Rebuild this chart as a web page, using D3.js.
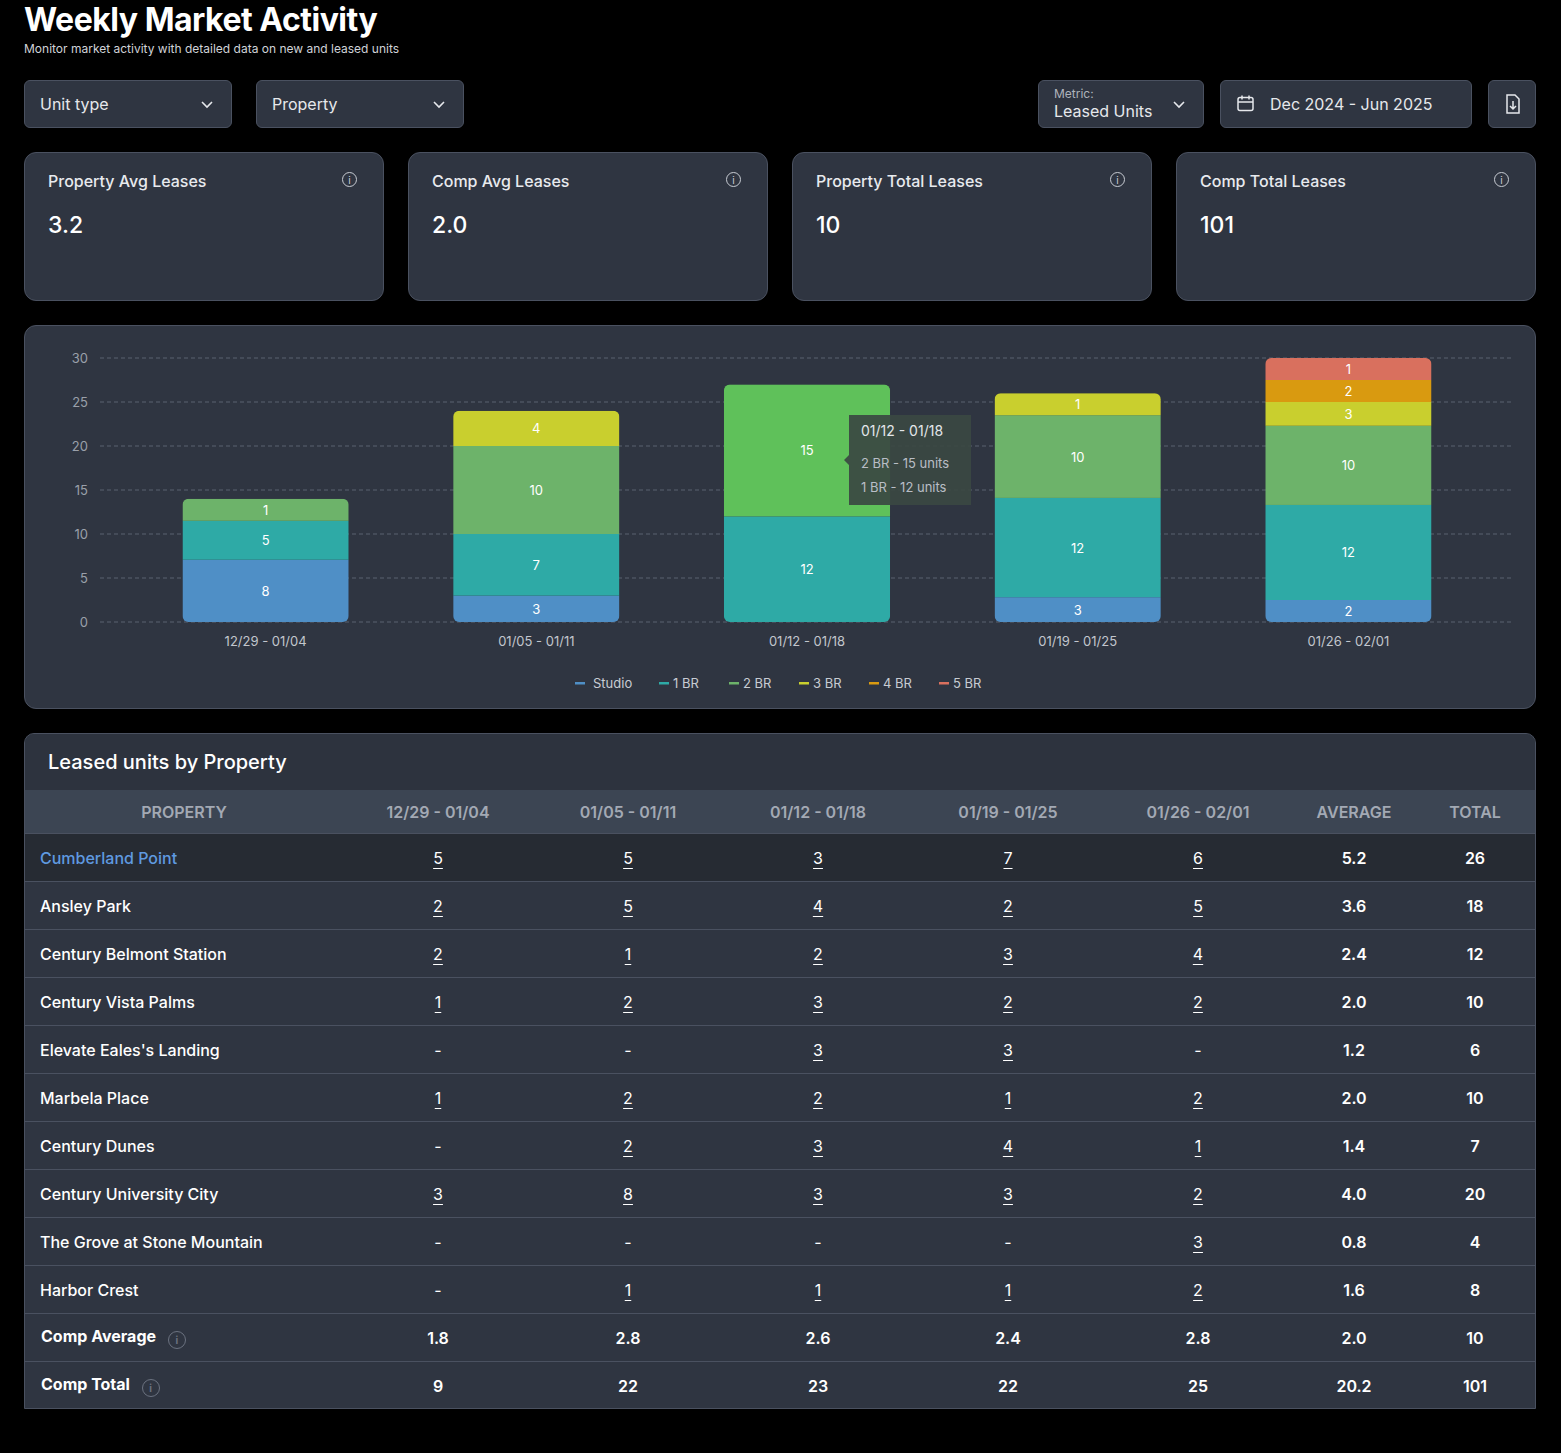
<!DOCTYPE html>
<html><head><meta charset="utf-8">
<script src="https://cdn.jsdelivr.net/npm/d3@7"></script>
<style>
body{margin:0;background:#000;font-family:Inter,"Noto Sans",sans-serif;color:#fff;width:1561px;height:1453px;position:relative;overflow:hidden}
.abs{position:absolute;box-sizing:border-box}
.box{background:#2f3541;border:1px solid #4a5160;border-radius:6px}
.card{background:#2f3541;border:1px solid #4a5160;border-radius:12px}
.sel{font-size:16px;color:#e6e8ec;display:flex;align-items:center;padding-left:15px}
.kt{font-size:16px;font-weight:500;color:#e8eaee;left:23px;top:18px}
.kv{font-size:23px;font-weight:500;left:23px;top:58px}
.info{width:15px;height:15px;border:1.5px solid #c8ccd3;border-radius:50%;font-size:10px;text-align:center;line-height:15px;color:#c8ccd3;right:26px;top:19px}
table{border-collapse:collapse;width:100%;font-size:16px}
td,th{height:47px;border-bottom:1px solid #4a5160;text-align:center;padding:0}
th{height:43px;color:#a3a9b4;font-weight:600;font-size:16px;background:#3c4553}
td.n{font-weight:600}
td u{text-underline-offset:4px}
</style></head><body>
<div class="abs" style="left:24px;top:0;font-size:32px;font-weight:700;letter-spacing:-0.5px">Weekly Market Activity</div>
<div class="abs" style="left:24px;top:41px;font-size:12px;color:#d0d3d8">Monitor market activity with detailed data on new and leased units</div>
<div id="filters"></div>
<div id="kpis"></div>
<div class="abs card" style="left:24px;top:325px;width:1512px;height:384px"></div>
<svg id="chart" class="abs" style="left:0;top:0" width="1561" height="720"></svg>
<div class="abs card" style="left:24px;top:733px;width:1512px;height:676px;overflow:hidden;border-radius:10px 10px 0 0">
 <div style="height:56px;line-height:56px;padding-left:23px;font-size:20px;font-weight:500;background:#2d333e">Leased units by Property</div>
 <table id="tbl"></table>
</div>
<script>
// chart data
const weeks = ["12/29 - 01/04","01/05 - 01/11","01/12 - 01/18","01/19 - 01/25","01/26 - 02/01"];
const unitTypes = ["Studio","1 BR","2 BR","3 BR","4 BR","5 BR"];
const studio = [8,3,0,3,2];
const br1 = [5,7,12,12,12];
const br2 = [1,10,15,10,10];
const br3 = [0,4,0,1,3];
const br4 = [0,0,0,0,2];
const br5 = [0,0,0,0,1];
const yTicks = [0,5,10,15,20,25,30];
const colors = ["#4f8fc6","#2eaaa6","#6db36a","#c9cf2e","#d99a10","#d9705e"];

// kpis
const kpiNames = ["Property Avg Leases","Comp Avg Leases","Property Total Leases","Comp Total Leases"];
const kpiValues = ["3.2","2.0","10","101"];

// table
const properties = ["Cumberland Point","Ansley Park","Century Belmont Station","Century Vista Palms","Elevate Eales's Landing","Marbela Place","Century Dunes","Century University City","The Grove at Stone Mountain","Harbor Crest"];
const weekly = [[5,5,3,7,6],[2,5,4,2,5],[2,1,2,3,4],[1,2,3,2,2],[null,null,3,3,null],[1,2,2,1,2],[null,2,3,4,1],[3,8,3,3,2],[null,null,null,null,3],[null,1,1,1,2]];
const averages = ["5.2","3.6","2.4","2.0","1.2","2.0","1.4","4.0","0.8","1.6"];
const totals = [26,18,12,10,6,10,7,20,4,8];
const compAvg = ["1.8","2.8","2.6","2.4","2.8","2.0","10"];
const compTotal = ["9","22","23","22","25","20.2","101"];

// filters
const f = d3.select("#filters");
function selBox(x,w,html){return f.append("div").attr("class","abs box sel").style("left",x+"px").style("top","80px").style("width",w+"px").style("height","48px").html(html);}
const chev = '<svg width="14" height="10" style="position:absolute;right:17px;top:19px"><path d="M2 2l5 5 5-5" stroke="#e6e8ec" stroke-width="1.6" fill="none"/></svg>';
selBox(24,208,"Unit type"+chev);
selBox(256,208,"Property"+chev);
selBox(1038,166,'<div><div style="font-size:12px;color:#aeb3bb;margin-top:-2px">Metric:</div><div>Leased Units</div></div>'+chev);
selBox(1220,252,'<svg width="20" height="20" style="margin-right:14px"><rect x="2" y="3.5" width="15" height="13" rx="2" stroke="#e6e8ec" stroke-width="1.5" fill="none"/><path d="M2 8h15M6 1.5v4M13 1.5v4" stroke="#e6e8ec" stroke-width="1.5"/></svg>Dec 2024 - Jun 2025');
selBox(1488,48,'<svg width="20" height="22" style="margin-left:-1px"><path d="M4 2h8l4 4v14H4z" stroke="#e6e8ec" stroke-width="1.5" fill="none"/><path d="M10 8v8M7 13l3 3 3-3" stroke="#e6e8ec" stroke-width="1.5" fill="none"/></svg>');

const k = d3.select("#kpis");
kpiNames.forEach((n,i)=>{
  const c = k.append("div").attr("class","abs card").style("left",(24+i*384)+"px").style("top","152px").style("width","360px").style("height","149px");
  c.append("div").attr("class","abs kt").text(n);
  c.append("div").attr("class","abs info").text("i");
  c.append("div").attr("class","abs kv").text(kpiValues[i]);
});

// chart
const svg = d3.select("#chart");
const series = [studio,br1,br2,br3,br4,br5];
const x = d3.scaleBand().domain(weeks).range([78,1536]).paddingInner(0.386).paddingOuter(0.386);
const y = d3.scaleLinear().domain([0,30]).range([622,358]);
const minSeg = 22;

svg.append("g").selectAll("line").data(yTicks).join("line")
  .attr("x1",100).attr("x2",1512).attr("y1",d=>y(d)).attr("y2",d=>y(d))
  .attr("stroke","#5a6270").attr("stroke-dasharray","4,3");
svg.append("g").selectAll("text").data(yTicks).join("text")
  .attr("x",88).attr("y",d=>y(d)+5).attr("text-anchor","end").attr("fill","#9aa0aa").attr("font-size",13).text(d=>d);
svg.append("g").attr("transform","translate(0,630)").call(d3.axisBottom(x).tickSize(0))
  .call(g=>g.select(".domain").remove())
  .call(g=>g.selectAll("text").attr("fill","#c2c6cd").attr("font-size",13).attr("font-family","Inter,sans-serif").attr("dy","1em"));

// segments: bar total follows the y scale, small segments get a minimum pixel height
const segs = [];
weeks.forEach((w,i)=>{
  const vals = series.map(s=>s[i]);
  const total = d3.sum(vals);
  const H = y(0)-y(total);
  const small = vals.filter(v=>v>0 && v*H/total<minSeg);
  const rest = d3.sum(vals.filter(v=>v>0 && v*H/total>=minSeg));
  const kk = (H - small.length*minSeg)/rest;
  let base = y(0);
  vals.forEach((v,j)=>{
    if(!v) return;
    const h = (v*H/total<minSeg)?minSeg:v*kk;
    segs.push({w,i,j,v,y0:base-h,h});
    base -= h;
  });
  svg.append("defs").append("clipPath").attr("id","cp"+i).append("rect")
    .attr("x",x(w)).attr("width",x.bandwidth()).attr("y",y(total)).attr("height",H).attr("rx",6);
});
svg.append("g").selectAll("rect").data(segs).join("rect")
  .attr("clip-path",d=>"url(#cp"+d.i+")")
  .attr("x",d=>x(d.w)).attr("width",x.bandwidth())
  .attr("y",d=>d.y0).attr("height",d=>d.h)
  .attr("fill",d=>(d.j===2&&d.i===2)?"#5fc15a":colors[d.j]);
svg.append("g").selectAll("text").data(segs).join("text")
  .attr("x",d=>x(d.w)+x.bandwidth()/2).attr("y",d=>d.y0+d.h/2+5)
  .attr("text-anchor","middle").attr("fill","#fff").attr("font-size",13).text(d=>d.v);

// tooltip
const tt = svg.append("g").attr("transform","translate(849,415)");
tt.append("path").attr("d","M0 0H122V90H0V50L-5 45L0 40Z").attr("fill","#3a4843").attr("opacity",0.93);
tt.append("text").attr("x",12).attr("y",21).attr("fill","#e3e6ea").attr("font-size",14).text(weeks[2]);
tt.append("text").attr("x",12).attr("y",53).attr("fill","#b9bec6").attr("font-size",13).text(unitTypes[2]+" - "+br2[2]+" units");
tt.append("text").attr("x",12).attr("y",77).attr("fill","#b9bec6").attr("font-size",13).text(unitTypes[1]+" - "+br1[2]+" units");

// legend
const lg = svg.append("g").attr("transform","translate(575,683)");
let lx = 0;
unitTypes.forEach((u,j)=>{
  const g = lg.append("g").attr("transform","translate("+lx+",0)");
  g.append("rect").attr("x",0).attr("y",-1).attr("width",10).attr("height",2.5).attr("fill",colors[j]);
  g.append("text").attr("x",j===0?18:14).attr("y",5).attr("fill","#c8ccd3").attr("font-size",13).text(u);
  lx += j===0?84:70;
});

// table
const cols = ["PROPERTY"].concat(weeks,["AVERAGE","TOTAL"]);
const widths = [318,190,190,190,190,190,122,120];
const tbl = d3.select("#tbl");
tbl.append("tr").selectAll("th").data(cols).join("th").style("width",(d,i)=>widths[i]+"px").text(d=>d);
properties.forEach((p,r)=>{
  const tr = tbl.append("tr").style("background",r===0?"#262b33":null);
  tr.append("td").style("text-align","left").style("padding-left","15px").style("font-weight",500)
    .style("color",r===0?"#5f9ae0":"#fff").text(p);
  weekly[r].forEach(v=>tr.append("td").html(v==null?"-":"<u>"+v+"</u>"));
  tr.append("td").attr("class","n").text(averages[r]);
  tr.append("td").attr("class","n").text(totals[r]);
});
[["Comp Average",compAvg],["Comp Total",compTotal]].forEach(([lab,vals])=>{
  const tr = tbl.append("tr");
  tr.append("td").style("text-align","left").style("padding-left","16px").style("font-weight",700)
    .html(lab+' <span style="display:inline-block;width:16px;height:16px;border:1px solid #6b7280;border-radius:50%;font-size:10px;line-height:16px;text-align:center;color:#6b7280;margin-left:8px;vertical-align:-2px">i</span>');
  vals.forEach(v=>tr.append("td").attr("class","n").text(v));
});
</script>
</body></html>
